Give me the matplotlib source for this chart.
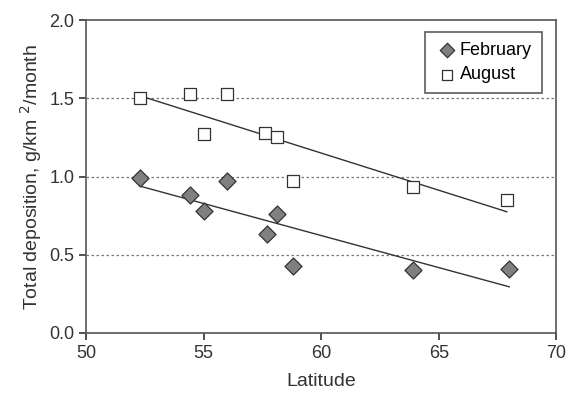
import numpy as np
import matplotlib
matplotlib.use("Agg")
import matplotlib.pyplot as plt

plt.rcParams['font.family'] = ['Liberation Sans', 'DejaVu Sans']

lat_feb = [52.3, 54.4, 55.0, 56.0, 57.7, 58.1, 58.8, 63.9, 68.0]
dep_feb = [0.99, 0.88, 0.78, 0.97, 0.63, 0.76, 0.43, 0.40, 0.41]
lat_aug = [52.3, 54.4, 55.0, 56.0, 57.6, 58.1, 58.8, 63.9, 67.9]
dep_aug = [1.50, 1.53, 1.27, 1.53, 1.28, 1.25, 0.97, 0.93, 0.85]

fig = plt.figure(figsize=(5.67, 4.03), dpi=100)
ax = fig.add_axes([0.152, 0.174, 0.829, 0.776])

for y in [0.5, 1.0, 1.5]:
    ax.axhline(y, color='#777777', lw=0.9, ls=(0, (2, 2)), zorder=0)

# linear trend lines
for x, y in [(lat_feb, dep_feb), (lat_aug, dep_aug)]:
    k, b = np.polyfit(x, y, 1)
    xs = np.array([min(x), max(x)])
    ax.plot(xs, k * xs + b, color='#333333', lw=1.0, zorder=2)

ax.scatter(lat_feb, dep_feb, marker='D', s=75, color='#808080',
           edgecolor='#333333', lw=0.9, zorder=3, label='February')
ax.scatter(lat_aug, dep_aug, marker='s', s=75, color='white',
           edgecolor='#333333', lw=0.9, zorder=3, label='August')

ax.set_xlim(50, 70)
ax.set_ylim(0, 2.0)
ax.set_xticks([50, 55, 60, 65, 70])
ax.set_yticks([0.0, 0.5, 1.0, 1.5, 2.0])
ax.set_yticklabels(['0.0', '0.5', '1.0', '1.5', '2.0'])
ax.tick_params(labelsize=13, colors='#333333', length=5, width=1.2, direction='out')
for s in ax.spines.values():
    s.set_color('#555555')
    s.set_linewidth(1.2)

ax.set_xlabel('Latitude', fontsize=14, color='#333333', labelpad=8)
ax.set_ylabel('Total deposition, g/km $^2$/month', fontsize=14, color='#333333')

leg = ax.legend(loc='upper right', fontsize=13, frameon=True, fancybox=False,
                edgecolor='#333333', handletextpad=0.05, handlelength=1.3,
                borderpad=0.55, labelspacing=0.4, markerscale=0.85,
                bbox_to_anchor=(0.988, 0.99))
leg.get_frame().set_linewidth(1.2)

fig.savefig('out.png', dpi=100)
